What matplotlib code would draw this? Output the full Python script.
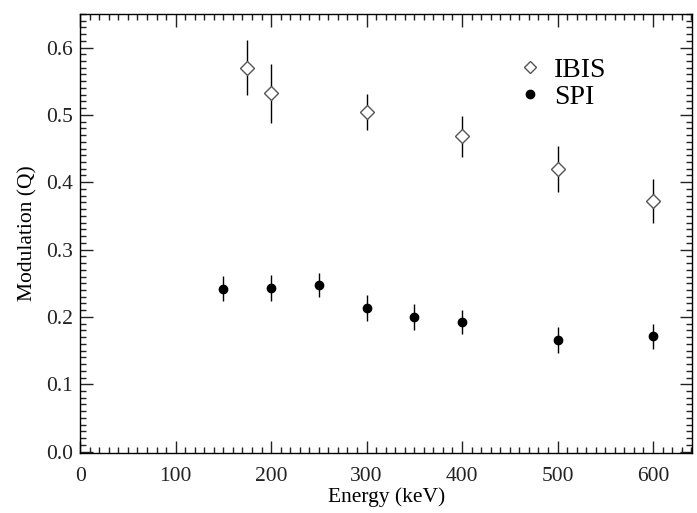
import matplotlib.pyplot as plt
from matplotlib.lines import Line2D
from matplotlib.ticker import MultipleLocator

plt.rcParams['font.family'] = ['Liberation Serif', 'DejaVu Serif']

# IBIS data
ibis_energy = [175, 200, 300, 400, 500, 600]
ibis_q = [0.570, 0.532, 0.504, 0.468, 0.420, 0.372]
ibis_err = [0.041, 0.044, 0.027, 0.031, 0.034, 0.033]

# SPI data
spi_energy = [150, 200, 250, 300, 350, 400, 500, 600]
spi_q = [0.242, 0.243, 0.247, 0.213, 0.200, 0.192, 0.166, 0.171]
spi_err = [0.019, 0.019, 0.018, 0.019, 0.019, 0.018, 0.019, 0.018]

fig = plt.figure(figsize=(6.97, 5.13), dpi=100)
ax = fig.add_axes([0.115, 0.117, 0.878, 0.856])

ax.errorbar(ibis_energy, ibis_q, yerr=ibis_err, fmt='D', ms=6.8, mfc='white',
            mec='#555555', mew=1.0, ecolor='black', elinewidth=1.0, capsize=0)
ax.errorbar(spi_energy, spi_q, yerr=spi_err, fmt='o', ms=6, color='black',
            ecolor='black', elinewidth=1.0, capsize=0)

ax.set_xlim(0, 641)
ax.set_ylim(-0.002, 0.650)
ax.xaxis.set_major_locator(MultipleLocator(100))
ax.xaxis.set_minor_locator(MultipleLocator(10))
ax.yaxis.set_major_locator(MultipleLocator(0.1))
ax.yaxis.set_minor_locator(MultipleLocator(0.01))
ax.yaxis.set_major_formatter(plt.FormatStrFormatter('%.1f'))
ax.tick_params(which='both', direction='in', top=True, right=True,
               labelsize=15.5, width=1.0, colors='#222222')
ax.tick_params(which='major', length=9)
ax.tick_params(which='minor', length=4)
ax.tick_params(axis='x', pad=10)
ax.tick_params(axis='y', pad=5)
for s in ax.spines.values():
    s.set_linewidth(1.0)

ax.set_xlabel('Energy (keV)', fontsize=15.5, labelpad=1)
ax.set_ylabel('Modulation (Q)', fontsize=15.5, labelpad=6)

handles = [Line2D([], [], ls='none', marker='D', ms=6.5, mfc='white', mec='#555555', mew=1.0),
           Line2D([], [], ls='none', marker='o', ms=6, color='black')]
ax.legend(handles, ['IBIS', 'SPI'], loc='upper left', bbox_to_anchor=(0.672, 0.958),
          frameon=False, fontsize=20, handlelength=1.0, handletextpad=0.35,
          labelspacing=0.05, numpoints=1)

fig.savefig('out.png', dpi=100)
